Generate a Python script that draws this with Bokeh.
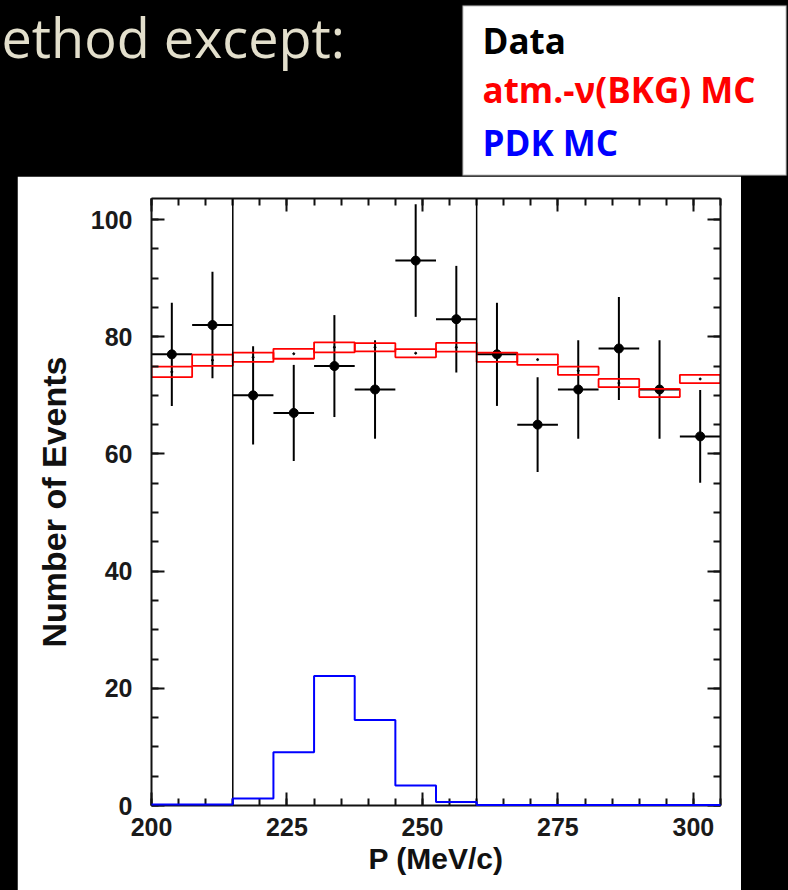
import numpy as np
from bokeh.plotting import figure
from bokeh.layouts import column
from bokeh.core.properties import value
from bokeh.models import (LinearAxis, FixedTicker, Range1d, Span, BoxAnnotation,
                          CustomJSTickFormatter)
from bokeh.embed import file_html
from bokeh.resources import INLINE

# ---- data ----
bin_edges = [200.0, 207.5, 215.0, 222.5, 230.0, 237.5, 245.0, 252.5,
             260.0, 267.5, 275.0, 282.5, 290.0, 297.5, 305.0]
data_counts = [77, 82, 70, 67, 75, 71, 93, 83, 77, 65, 71, 78, 71, 63]
data_errors = [8.8, 9.1, 8.4, 8.2, 8.7, 8.4, 9.6, 9.1, 8.8, 8.1, 8.4, 8.8, 8.4, 7.9]
bkg_mc = [74.0, 76.0, 76.5, 77.1, 78.2, 78.2, 77.2, 78.2, 76.5, 76.1, 74.2, 72.1, 70.4, 72.8]
bkg_mc_err = [0.9, 0.95, 0.8, 0.85, 0.85, 0.7, 0.7, 0.75, 0.8, 0.9, 0.7, 0.7, 0.7, 0.7]
pdk_mc = [0.15, 0.15, 1.2, 9.1, 22.1, 14.6, 3.4, 0.6, 0.1, 0.1, 0.1, 0.1, 0.1, 0.1]
cut_lines = [215.0, 260.0]
x_major_ticks = [200, 225, 250, 275, 300]
x_minor_ticks = list(range(200, 306, 5))
y_major_ticks = [0, 20, 40, 60, 80, 100]
y_minor_ticks = list(range(0, 104, 5))
legend_entries = ["Data", "atm.-\u03bd(BKG) MC", "PDK MC"]
legend_colors = ["black", "#ff0000", "#0000ff"]
slide_text = "ethod except:"
x_label = "P (MeV/c)"
y_label = "Number of Events"

lo = np.array(bin_edges[:-1])
hi = np.array(bin_edges[1:])
ctr = (lo + hi) / 2
dc = np.array(data_counts, dtype=float)
de = np.array(data_errors)
mc = np.array(bkg_mc)
me = np.array(bkg_mc_err)

# ---------- main histogram figure (white panel) ----------
p = figure(width=724, height=714, title=None,
           x_range=Range1d(200, 305), y_range=Range1d(0, 103.6),
           output_backend="svg", toolbar_location=None,
           min_border_left=134, min_border_right=21,
           min_border_top=22, min_border_bottom=85,
           background_fill_color="white", border_fill_color="white",
           outline_line_color=None, margin=(0, 47, 0, 17), frame_align=False)
p.xgrid.visible = False
p.ygrid.visible = False

empty_fmt = CustomJSTickFormatter(code="return ''")

def style_axis(ax, ticks, minor, labels=True):
    ax.ticker = FixedTicker(ticks=ticks, minor_ticks=minor)
    ax.major_tick_in = 13
    ax.major_tick_out = 0
    ax.minor_tick_in = 7
    ax.minor_tick_out = 0
    ax.axis_line_width = 2
    ax.axis_line_color = "#111111"
    ax.major_tick_line_width = 2
    ax.major_tick_line_color = "#111111"
    ax.minor_tick_line_width = 2
    ax.minor_tick_line_color = "#111111"
    ax.major_label_text_font = "Liberation Sans"
    ax.major_label_text_font_style = "bold"
    ax.axis_label_text_font = "Liberation Sans"
    ax.axis_label_text_font_style = "bold"
    ax.axis_label_text_color = "#111111"
    if labels:
        ax.major_label_text_font_size = "25px"
        ax.major_label_text_color = "#1a1a1a"
    else:
        ax.formatter = empty_fmt
        ax.major_label_text_font_size = "0px"
        ax.major_label_standoff = 0

xb = p.xaxis[0]
style_axis(xb, x_major_ticks, x_minor_ticks)
xb.axis_label = x_label
xb.axis_label_text_font_size = "30px"
xb.major_label_standoff = 12
xb.axis_label_standoff = 3

yl = p.yaxis[0]
style_axis(yl, y_major_ticks, y_minor_ticks)
yl.axis_label = y_label
yl.axis_label_text_font_size = "34px"
yl.major_label_standoff = 19
yl.axis_label_standoff = 15

xt = LinearAxis()
style_axis(xt, x_major_ticks, x_minor_ticks, labels=False)
p.add_layout(xt, "above")
yr = LinearAxis()
style_axis(yr, y_major_ticks, y_minor_ticks, labels=False)
p.add_layout(yr, "right")

# data points with error bars
p.segment(x0=lo, y0=dc, x1=hi, y1=dc, line_color="black", line_width=2)
p.segment(x0=ctr, y0=dc - de, x1=ctr, y1=dc + de, line_color="black", line_width=2)
p.scatter(x=ctr, y=dc, size=9, color="black")

# background MC band
p.quad(left=lo, right=hi, bottom=mc - me, top=mc + me,
       fill_color=None, line_color="#ff0000", line_width=1.8)
p.scatter(x=ctr, y=mc, size=2, color="black")

# PDK MC histogram
p.step(x=bin_edges, y=pdk_mc + [pdk_mc[-1]], mode="after",
       line_color="#0000ff", line_width=2, level="overlay")

for c in cut_lines:
    p.add_layout(Span(location=c, dimension="height", line_color="black", line_width=1.5))

# ---------- slide header (black band with text and legend box) ----------
# header coordinates are pixels measured from the top-left of the band
top = figure(width=788, height=176, title=None, output_backend="svg", toolbar_location=None,
             x_range=Range1d(0, 788), y_range=Range1d(176, 0),
             x_axis_location=None, y_axis_location=None,
             min_border=0, background_fill_color="black", border_fill_color="black",
             outline_line_color=None, frame_align=False)
top.xgrid.visible = False
top.ygrid.visible = False
top.text(x=[1], y=[36], text=[slide_text], text_font=value("Open Sans"),
         text_font_size=value("54px"), text_color="#e3dfcc",
         text_baseline="alphabetic", text_align="left")
top.add_layout(BoxAnnotation(left=462, right=786, top=5, bottom=175,
                             fill_color="white", fill_alpha=1.0,
                             line_color="#333333", line_width=2))
top.text(x=[482, 482, 482], y=[40, 89, 142], text=legend_entries,
         text_color=legend_colors, text_font=value("Open Sans"),
         text_font_style="bold", text_font_size=value("35px"),
         text_baseline="alphabetic", text_align="left", level="overlay")

layout = column(top, p, spacing=0, styles={"background-color": "black"})
open("out.html", "w").write(file_html(layout, INLINE))
